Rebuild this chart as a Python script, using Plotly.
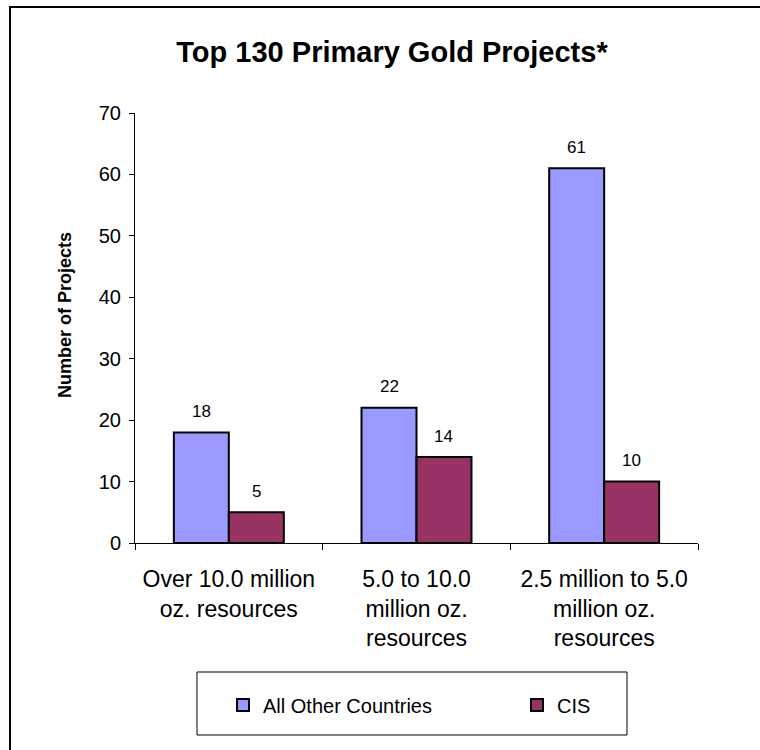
import plotly.graph_objects as go

categories = ["Over 10.0 million<br>oz. resources", "5.0 to 10.0<br>million oz.<br>resources", "2.5 million to 5.0<br>million oz.<br>resources"]
other_countries = [18, 22, 61]
cis = [5, 14, 10]
series_names = ["All Other Countries", "CIS"]
y_ticks = [0, 10, 20, 30, 40, 50, 60, 70]

FONT = "Liberation Sans, Arial, sans-serif"
BLUE = "#9999FF"
PLUM = "#993366"

fig = go.Figure()
fig.add_trace(go.Bar(x=categories, y=other_countries, name=series_names[0], legend="legend",
                     marker=dict(color=BLUE, line=dict(color="black", width=2))))
fig.add_trace(go.Bar(x=categories, y=cis, name=series_names[1], legend="legend2",
                     marker=dict(color=PLUM, line=dict(color="black", width=2))))

# data labels
bargap = 0.414
half = (1 - bargap) / 4  # offset of each bar center in category units
cat_px = 563 / 3
annotations = []
for vals, sign in [(other_countries, -1), (cis, 1)]:
    for c, v in zip(categories, vals):
        annotations.append(dict(x=c, y=v, xref="x", yref="y", text=str(v), showarrow=False,
                                xshift=sign * half * cat_px, yshift=21,
                                font=dict(family=FONT, size=17, color="black")))

# y-axis title
annotations.append(dict(x=-0.1243, y=0.530, xref="paper", yref="paper", textangle=-90,
                        text="<b>Number of Projects</b>", showarrow=False,
                        xanchor="center", yanchor="middle",
                        font=dict(family=FONT, size=18, color="black")))

legend_common = dict(orientation="h", yanchor="middle", y=-0.3767, xanchor="left",
                     font=dict(family=FONT, size=20, color="black"),
                     bgcolor="rgba(0,0,0,0)", borderwidth=0)

fig.update_layout(
    width=760, height=750,
    margin=dict(l=135, r=62, t=113, b=207),
    paper_bgcolor="white", plot_bgcolor="white",
    barmode="group", bargap=bargap, bargroupgap=0,
    title=dict(text="<b>Top 130 Primary Gold Projects*</b>", x=392 / 760, xref="container",
               xanchor="center", y=1 - 52 / 750, yanchor="middle",
               font=dict(family=FONT, size=29, color="black")),
    font=dict(family=FONT, color="black"),
    showlegend=True,
    legend=dict(x=0.1563, **legend_common),
    legend2=dict(x=0.6785, **legend_common),
    annotations=annotations,
    shapes=[
        dict(type="rect", xref="paper", yref="paper", x0=0.1101, x1=0.8739, y0=-0.4465, y1=-0.30,
             line=dict(color="black", width=1), layer="below"),
        dict(type="rect", xref="paper", yref="paper", x0=-0.222, x1=2, y0=-2, y1=1.2465,
             line=dict(color="black", width=2), layer="below"),
    ],
)
fig.update_yaxes(range=[0, 70], tickvals=y_ticks, showline=True, linecolor="black", linewidth=1,
                 ticks="outside", ticklen=5, tickcolor="black", showgrid=False, zeroline=False,
                 tickfont=dict(family=FONT, size=20, color="black"), ticklabelstandoff=4)
fig.update_xaxes(showline=True, linecolor="black", linewidth=1, ticks="outside", ticklen=6,
                 tickcolor="black", tickson="boundaries", showgrid=False,
                 tickfont=dict(family=FONT, size=23, color="black"), ticklabelstandoff=15)

fig.write_html("out.html")
